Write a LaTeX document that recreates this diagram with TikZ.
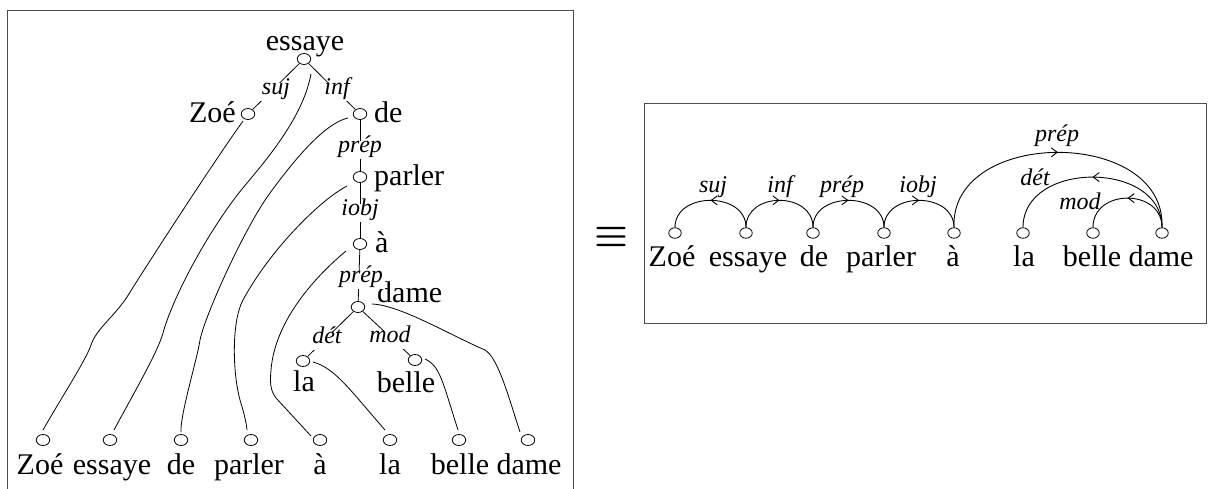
\RequirePackage{fix-cm}
\documentclass[tikz,border=0pt]{standalone}
\usepackage{fontspec}
\setmainfont{Liberation Serif}
\usetikzlibrary{shapes.geometric,decorations.markings,arrows.meta}

\begin{document}
\begin{tikzpicture}[x=1pt,y=-1pt,
  word/.style={font=\fontsize{30}{34}\selectfont, inner sep=0pt, anchor=base},
  lbl/.style={font=\fontsize{24}{28}\selectfont\itshape, inner xsep=1.5pt, inner ysep=4pt,
              text height=0.74em, text depth=0.25em, anchor=base},
  gap/.style={lbl, fill=white},
  dot/.style={ellipse, draw, line width=0.8pt, minimum width=13.5pt, minimum height=11pt, inner sep=0pt},
  rdot/.style={dot, minimum width=12.5pt, minimum height=10.5pt},
  edge/.style={line width=0.8pt},
  proj/.style={line width=0.8pt},
  frame/.style={draw=black!70, line width=1pt},
  tip/.tip={Straight Barb[length=6pt,width=9pt]},
  arcF/.style={line width=0.9pt, postaction={decorate},
    decoration={markings, mark=at position 0.5 with {\arrow{tip}}}},
  arcB/.style={line width=0.9pt, postaction={decorate},
    decoration={markings, mark=at position 0.5 with {\arrowreversed{tip}}}},
]
\useasboundingbox (0,0) rectangle (1208,488);

% ---------- frames ----------
\draw[frame] (7,490) -- (7,10.5) -- (573,10.5) -- (573,490);
\draw[frame] (644,103) rectangle (1206,323);
\node[font=\fontsize{38}{40}\selectfont\mathversion{bold}, inner sep=0pt] (eqv) at (611,237) {$\equiv$};

% ---------- dependency tree ----------
\node[dot] (tEss)   at (304,59)  {};
\node[dot] (tZoe)   at (248,114) {};
\node[dot] (tDe)    at (360,114) {};
\node[dot] (tPar)   at (360,177) {};
\node[dot] (tA)     at (360,244) {};
\node[dot] (tDame)  at (358,307) {};
\node[dot] (tLa)    at (303,361) {};
\node[dot] (tBelle) at (415,360) {};

\node[word] (wEss)   at (305,50)  {essaye};
\node[word, anchor=base east] (wZoe)  at (236,122) {Zoé};
\node[word, anchor=base west] (wDe)   at (374,122) {de};
\node[word, anchor=base west] (wPar)  at (374,185) {parler};
\node[word, anchor=base west] (wA)    at (375,252) {à};
\node[word, anchor=base west] (wDame) at (377,302) {dame};
\node[word] (wLa)    at (304,391) {la};
\node[word] (wBelle) at (406,392) {belle};

\draw[edge] (tEss) -- (tZoe);
\draw[edge] (tEss) -- (tDe);
\draw[edge] (tDe) -- (tPar);
\draw[edge] (tPar) -- (tA);
\draw[edge] (tA) -- (tDame);
\draw[edge] (tDame) -- (tLa);
\draw[edge] (tDame) -- (tBelle);

\node[gap] (lSuj)   at (276,94)  {suj};
\node[gap] (lInf)   at (337,94)  {inf};
\node[gap] (lPrep)  at (360,152) {prép};
\node[gap] (lIobj)  at (360,215) {iobj};
\node[gap] (lPrepB) at (361,282) {prép};
\node[gap] (lDet)   at (327,343) {dét};
\node[gap] (lMod)   at (390,342) {mod};

% ---------- word order line ----------
\foreach \n/\x/\t/\w in {bZoe/43/40/Zoé, bEss/110/112/essaye, bDe/181/181/de, bPar/251/249/parler,
                         bA/320/320/à, bLa/390/390/la, bBelle/459/460/belle, bDame/528/529/dame}{
  \node[dot] (\n) at (\x,440) {};
  \node[word] (\n W) at (\t,474) {\w};
}

% ---------- projection lines ----------
\draw[proj] ([shift={(-5,7)}]tZoe.center)
  .. controls (215,160) and (150,260) .. (127,297)
  .. controls (113,318) and (97,328) .. (91,345)
  .. controls (86,360) and (60,400) .. ([shift={(0,-10)}]bZoe.center);
\draw[proj] ([shift={(7,15)}]tEss.center)
  .. controls (304,112) and (275,150) .. (247,183)
  .. controls (216,219) and (175,290) .. (163,333)
  .. controls (158,352) and (130,400) .. ([shift={(4,-10)}]bEss.center);
\draw[proj] ([shift={(-12,4)}]tDe.center)
  .. controls (330,122) and (305,145) .. (270,193)
  .. controls (245,227) and (205,315) .. (200,340)
  .. controls (197,360) and (180,415) .. ([shift={(0,-8)}]bDe.center);
\draw[proj] ([shift={(-13,9)}]tPar.center)
  .. controls (320,200) and (270,250) .. (243,300)
  .. controls (232,320) and (232,370) .. (240,400)
  .. controls (243,410) and (246,420) .. ([shift={(-4,-10)}]bPar.center);
\draw[proj] ([shift={(-14,7)}]tA.center)
  .. controls (316,276) and (275,320) .. (271,370)
  .. controls (270,382) and (270,390) .. (276,398)
  -- ([shift={(-9,-4)}]bA.center);
\draw[proj] ([shift={(10,1)}]tLa.center)
  .. controls (335,368) and (350,390) .. ([shift={(-5,-10)}]bLa.center);
\draw[proj] ([shift={(10,-1)}]tBelle.center)
  .. controls (440,366) and (442,380) .. ([shift={(-1,-10)}]bBelle.center);
\draw[proj] ([shift={(14,-3)}]tDame.center)
  .. controls (400,305) and (450,335) .. (485,350)
  .. controls (498,358) and (508,395) .. ([shift={(-8,-8)}]bDame.center);

% ---------- arc diagram ----------
\foreach \n/\x/\t/\w in {rZoe/675/672/Zoé, rEss/746/748/essaye, rDe/813/814/de, rPar/884/881/parler,
                         rA/954/953/à, rLa/1023/1024/la, rBelle/1093/1092/belle, rDame/1162/1161/dame}{
  \node[rdot] (\n) at (\x,233) {};
  \node[word] (\n W) at (\t,266) {\w};
}

\draw[arcB] (rZoe.north) .. controls +(0,-36) and +(0,-36) .. (rEss.north);
\draw[arcF] (rEss.north) .. controls +(0,-36) and +(0,-36) .. (rDe.north);
\draw[arcF] (rDe.north)  .. controls +(0,-36) and +(0,-36) .. (rPar.north);
\draw[arcF] (rPar.north) .. controls +(0,-36) and +(0,-36) .. (rA.north);
\draw[arcF] (rA.north)   .. controls +(-4,-100) and +(4,-100) .. (rDame.north);
\draw[arcB] (rLa.north)  .. controls +(0,-67) and +(0,-67) .. (rDame.north);
\draw[arcB] (rBelle.north) .. controls +(0,-39) and +(0,-39) .. (rDame.north);

\node[lbl] (aSuj)  at (713,192)  {suj};
\node[lbl] (aInf)  at (780,192)  {inf};
\node[lbl] (aPrep) at (842,192)  {prép};
\node[lbl] (aIobj) at (918,192)  {iobj};
\node[lbl] (aPrepB) at (1057,141) {prép};
\node[lbl] (aDet)  at (1035,185) {dét};
\node[lbl] (aMod)  at (1080,209) {mod};
\end{tikzpicture}
\end{document}
